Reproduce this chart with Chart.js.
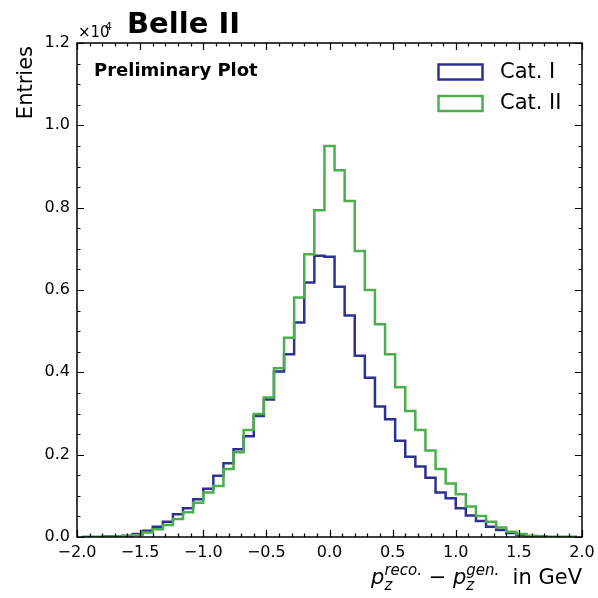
<!DOCTYPE html>
<html>
<head>
<meta charset="utf-8">
<script src="https://cdn.jsdelivr.net/npm/chart.js@4.4.1/dist/chart.umd.min.js"></script>
<style>
  html, body { margin: 0; padding: 0; background: #fff; }
  #wrap { width: 598px; height: 598px; }
</style>
</head>
<body>
<div id="wrap"><canvas id="myChart" width="598" height="598"></canvas></div>
<script>
// histogram binning: 49 bins of 0.08 GeV, centred on 0
const binLow = -1.96;
const binWidth = 0.08;

// entries per bin
const catI = [0, 0, 10, 10, 30, 70, 150, 250, 370, 550, 700, 920, 1170, 1490, 1790, 2130, 2450, 2940, 3340, 4020, 4440, 5210, 6180, 6830, 6810,
              6080, 5380, 4400, 3870, 3170, 2860, 2340, 1950, 1710, 1440, 1080, 940, 700, 520, 390, 250, 170, 100, 50, 20, 10, 0, 0, 0];
const catII = [0, 0, 5, 10, 20, 50, 110, 190, 290, 440, 600, 830, 1080, 1240, 1650, 2060, 2600, 2990, 3390, 4100, 4840, 5820, 6870, 7940, 9500,
               8910, 8160, 6950, 6000, 5170, 4440, 3640, 3060, 2600, 2100, 1650, 1300, 1040, 740, 510, 370, 230, 130, 70, 30, 10, 0, 0, 0];

const seriesNames = ["Cat. I", "Cat. II"];
const seriesColors = ["#2e3192", "#4cae4c"];
const xTicks = [-2.0, -1.5, -1.0, -0.5, 0.0, 0.5, 1.0, 1.5, 2.0];
const yTicks = [0, 2000, 4000, 6000, 8000, 10000, 12000];

// step points: left edge of every bin, plus closing right edge
function stepPoints(vals) {
    const pts = vals.map((v, i) => ({ x: binLow + i * binWidth, y: v }));
    pts.push({ x: binLow + vals.length * binWidth, y: 0 });
    return pts;
}

const fmt = v => v.toFixed(1).replace("-", "\u2212");

// ------------------------------------------
// frame, inward ticks, legend and texts (matplotlib look)
const decorations = {
    id: "decorations",
    afterDraw(chart) {
        const ctx = chart.ctx;
        const a = chart.chartArea;
        const xs = chart.scales.x, ys = chart.scales.y;
        ctx.save();
        ctx.strokeStyle = "#000";
        ctx.lineWidth = 1.2;
        ctx.beginPath();
        const tick = (x1, y1, x2, y2) => { ctx.moveTo(x1, y1); ctx.lineTo(x2, y2); };
        for (let i = -20; i <= 20; i++) {
            const px = Math.round(xs.getPixelForValue(i / 10)) + 0.5;
            const len = i % 5 === 0 ? 7 : 3.5;
            tick(px, a.bottom, px, a.bottom - len);
            tick(px, a.top, px, a.top + len);
        }
        for (let i = 0; i <= 24; i++) {
            const py = Math.round(ys.getPixelForValue(i * 500)) + 0.5;
            const len = i % 4 === 0 ? 7 : 3.5;
            tick(a.left, py, a.left + len, py);
            tick(a.right, py, a.right - len, py);
        }
        ctx.stroke();
        ctx.lineWidth = 1.5;
        ctx.strokeRect(a.left, a.top, a.right - a.left, a.bottom - a.top);

        // legend
        ctx.lineWidth = 2.5;
        ctx.font = "21px 'DejaVu Sans'";
        ctx.textBaseline = "middle";
        seriesNames.forEach((name, i) => {
            const y = 64.5 + i * 31.5;
            ctx.strokeStyle = seriesColors[i];
            ctx.strokeRect(438.5, y, 44, 15);
            ctx.fillStyle = "#000";
            ctx.fillText(name, 500, y + 8);
        });

        // texts
        ctx.fillStyle = "#000";
        ctx.textBaseline = "alphabetic";
        ctx.font = "bold 29px 'DejaVu Sans'";
        ctx.fillText("Belle II", 127, 33);
        ctx.font = "bold 18px 'DejaVu Sans'";
        ctx.fillText("Preliminary Plot", 94, 76);
        ctx.font = "15px 'DejaVu Sans'";
        ctx.fillText("\u00d710", 78, 37);
        ctx.font = "11px 'DejaVu Sans'";
        ctx.fillText("4", 105, 30);

        // y title
        ctx.save();
        ctx.translate(32, 46);
        ctx.rotate(-Math.PI / 2);
        ctx.textAlign = "right";
        ctx.font = "21px 'DejaVu Sans'";
        ctx.fillText("Entries", 0, 0);
        ctx.restore();

        // x title
        const big = "21px 'DejaVu Sans'", bigIt = "italic 21px 'DejaVu Sans'", small = "italic 15px 'DejaVu Sans'";
        const parts = [
            { t: "p", f: bigIt, dy: 0, adv: true },
            { t: "z", f: small, dy: 6, adv: false },
            { t: "reco.", f: small, dy: -9, adv: true },
            { t: " \u2212 ", f: big, dy: 0, adv: true },
            { t: "p", f: bigIt, dy: 0, adv: true },
            { t: "z", f: small, dy: 6, adv: false },
            { t: "gen.", f: small, dy: -9, adv: true },
            { t: "  in GeV", f: big, dy: 0, adv: true }
        ];
        let total = 0;
        parts.forEach(p => { ctx.font = p.f; p.w = ctx.measureText(p.t).width; if (p.adv) total += p.w; });
        let x = a.right - total;
        const base = 584;
        parts.forEach(p => {
            ctx.font = p.f;
            ctx.fillText(p.t, x, base + p.dy);
            if (p.adv) x += p.w;
        });
        ctx.restore();
    }
};

new Chart("myChart", {
    type: "line",
    data: {
        datasets: [{
            label: seriesNames[0],
            data: stepPoints(catI),
            borderColor: seriesColors[0],
            borderWidth: 2.5,
            stepped: "before",
            pointRadius: 0,
            fill: false,
            order: 1
        }, {
            label: seriesNames[1],
            data: stepPoints(catII),
            borderColor: seriesColors[1],
            borderWidth: 2.5,
            stepped: "before",
            pointRadius: 0,
            fill: false,
            order: 0
        }]
    },
    options: {
        responsive: false,
        animation: false,
        layout: { padding: { top: 43, right: 16, left: 0, bottom: 0 } },
        plugins: { legend: { display: false }, tooltip: { enabled: false } },
        scales: {
            x: {
                type: "linear",
                min: -2, max: 2,
                grid: { display: false, drawTicks: false },
                border: { display: false },
                afterFit: s => { s.height = 61; s.paddingLeft = 0; s.paddingRight = 0; },
                afterBuildTicks: s => { s.ticks = xTicks.map(v => ({ value: v })); },
                ticks: {
                    color: "#000",
                    padding: 6,
                    maxRotation: 0,
                    autoSkip: false,
                    font: { family: "DejaVu Sans", size: 16 },
                    callback: v => fmt(v)
                }
            },
            y: {
                min: 0, max: 12000,
                grid: { display: false, drawTicks: false },
                border: { display: false },
                afterFit: s => { s.width = 77; s.paddingTop = 0; s.paddingBottom = 0; },
                afterBuildTicks: s => { s.ticks = yTicks.map(v => ({ value: v })); },
                ticks: {
                    color: "#000",
                    padding: 7,
                    font: { family: "DejaVu Sans", size: 16 },
                    callback: v => (v / 10000).toFixed(1)
                }
            }
        }
    },
    plugins: [decorations]
});
</script>
</body>
</html>
